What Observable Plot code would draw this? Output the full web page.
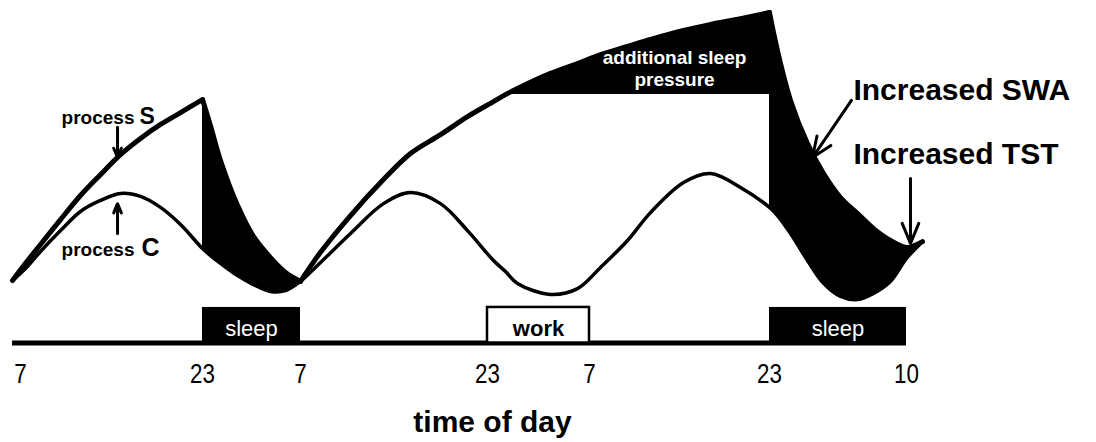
<!DOCTYPE html>
<html>
<head>
<meta charset="utf-8">
<script src="https://cdn.jsdelivr.net/npm/d3@7"></script>
<script src="https://cdn.jsdelivr.net/npm/@observablehq/plot@0.6"></script>
<style>
  html, body { margin: 0; padding: 0; background: #fff; }
  #chart svg { display: block; }
</style>
</head>
<body>
<div id="chart"></div>
<script>
// Hours elapsed since 07:00 on day 1
const hours = [
  -0.70, 0.44, 1.76, 3.52, 5.27, 7.03, 8.79, 10.55, 12.31, 14.07, 16,
  16.65, 17.47, 18.86, 20.16, 21.55, 22.78, 24,
  25.71, 28.28, 31.10, 33.41, 35.98, 38.29, 40.47, 41.41, 42.35, 44.94, 47.06, 48.98, 51.38, 53.42, 56.36, 58.76, 61.42, 64,
  64.64, 65.69, 67.05, 68.34, 69.70, 71.07, 72.35, 73.72, 75.0, 76.28
];
// Homeostatic sleep pressure (process S), arbitrary units 0-100
const processS = [
  6.9, 12.8, 19.3, 27.9, 36.2, 43.4, 50.3, 55.9, 60.7, 64.8, 69.3,
  60.3, 48.3, 32.8, 22.1, 14.8, 9.7, 6.6,
  16.6, 29.3, 41.7, 50.7, 57.2, 63.4, 68.6, 71.0, 73.1, 78.3, 81.7, 84.8, 87.6, 90.0, 93.1, 95.2, 97.2, 99.3,
  86.2, 69.0, 54.1, 43.8, 35.5, 30.0, 24.8, 20.7, 18.3, 20.3
];
// Circadian process C, same units
const processC = [
  6.9, 11.0, 16.9, 24.1, 30.7, 34.5, 36.9, 35.9, 32.1, 26.2, 17.9,
  15.5, 12.8, 8.6, 5.5, 3.1, 3.4, 6.6,
  13.1, 23.1, 33.4, 37.2, 33.4, 24.1, 13.8, 10.0, 5.9, 2.1, 4.1, 11.4, 20.7, 30.3, 40.7, 43.8, 39.0, 32.1,
  29.3, 23.1, 13.8, 5.9, 1.4, 0.3, 2.4, 6.6, 14.5, 20.3
];
// level of S at normal bedtime, the floor of the "additional sleep pressure"
const extraPressureLevel = 71.0;

// Time-of-day ticks
const tickHours = [0, 16, 24, 40, 48, 64, 75];
const tickLabels = ["7", "23", "7", "23", "7", "23", "10"];

// Behavioural periods
const periodLabels = ["sleep", "work", "sleep"];
const periodStart = [16, 40, 64];
const periodEnd = [24, 48, 75];

// Annotations (hour, level)
const noteText = ["process", "S", "process", "C", "additional sleep\npressure", "Increased SWA", "Increased TST"];
const noteHour = [10.02, 10.46, 10.02, 10.64, 55.56, 70.74, 70.74];
const noteLevel = [61.0, 61.0, 15.5, 15.5, 74.1, 69.0, 47.2];
const arrowHourFrom = [8.53, 8.53, 70.58, 75.32];
const arrowLevelFrom = [59.7, 23.1, 69.0, 42.1];
const arrowHourTo = [8.53, 8.53, 67.45, 75.32];
const arrowLevelTo = [49.3, 33.4, 49.3, 19.7];

// ---- build tables ----
const rows = hours.map((t, i) => ({t, s: processS[i], c: processC[i]}));
const periods = periodLabels.map((label, i) => ({label, start: periodStart[i], end: periodEnd[i]}));
const notes = noteText.map((text, i) => ({text, t: noteHour[i], v: noteLevel[i]}));
const arrows = arrowHourFrom.map((t1, i) => ({t1, v1: arrowLevelFrom[i], t2: arrowHourTo[i], v2: arrowLevelTo[i]}));

const wake1 = rows.filter(d => d.t <= periodStart[0]);
const sleep1 = rows.filter(d => d.t >= periodStart[0] && d.t <= periodEnd[0]);
const wake2 = rows.filter(d => d.t >= periodEnd[0] && d.t <= periodStart[2]);
const sleep2 = rows.filter(d => d.t >= periodStart[2]);
const extra = rows.filter(d => d.t <= periodStart[2] && d.s >= extraPressureLevel);

const curve = "catmull-rom";
const font = "Liberation Sans, Arial, Helvetica, sans-serif";
const barTop = -2.4, barBottom = -14.66;

const chart = Plot.plot({
  width: 1096,
  height: 442,
  marginTop: 0,
  marginLeft: 0,
  marginRight: 112,
  marginBottom: 87,
  style: {fontFamily: font, background: "#fff", color: "#000"},
  x: {type: "linear", domain: tickHours, range: [20, 202, 300, 487, 589, 769, 906]},
  y: {domain: [0, 100], range: [300, 10], axis: null},
  marks: [
    // black fills
    Plot.areaY(extra, {x: "t", y1: extraPressureLevel, y2: "s", fill: "#000", curve}),
    Plot.areaY(sleep1, {x: "t", y1: "c", y2: "s", fill: "#000", curve}),
    Plot.areaY(sleep2, {x: "t", y1: "c", y2: "s", fill: "#000", curve}),
    // process C
    Plot.line(rows, {x: "t", y: "c", stroke: "#000", strokeWidth: 3.5, curve}),
    // process S (piecewise: wake rise / sleep decay)
    ...[wake1, sleep1, wake2, sleep2].map(seg =>
      Plot.line(seg, {x: "t", y: "s", stroke: "#000", strokeWidth: 5, curve})),
    // timeline
    Plot.ruleY([barBottom], {x1: hours[0], x2: periodEnd[periodEnd.length - 1], stroke: "#000", strokeWidth: 5}),
    Plot.rect(periods.filter(d => d.label === "sleep"), {x1: "start", x2: "end", y1: barTop, y2: barBottom, fill: "#000"}),
    Plot.rect(periods.filter(d => d.label === "work"), {x1: "start", x2: "end", y1: barTop, y2: barBottom, fill: "#fff", stroke: "#000", strokeWidth: 2.5}),
    Plot.text(periods.filter(d => d.label === "sleep"), {x: d => (d.start + d.end) / 2, y: -12.4, text: "label", lineAnchor: "bottom", fill: "#fff", fontSize: 22}),
    Plot.text(periods.filter(d => d.label === "work"), {x: d => (d.start + d.end) / 2, y: -12.4, text: "label", lineAnchor: "bottom", fill: "#000", fontSize: 22, fontWeight: "bold"}),
    // annotations
    Plot.text([notes[0], notes[2]], {x: "t", y: "v", text: "text", textAnchor: "end", lineAnchor: "bottom", fontSize: 19, fontWeight: "bold", fill: "#000"}),
    Plot.text([notes[1]], {x: "t", y: "v", text: "text", textAnchor: "start", lineAnchor: "bottom", fontSize: 23, fontWeight: "bold", fill: "#000"}),
    Plot.text([notes[3]], {x: "t", y: "v", text: "text", textAnchor: "start", lineAnchor: "bottom", fontSize: 25, fontWeight: "bold", fill: "#000"}),
    Plot.text([notes[4]], {x: "t", y: "v", text: "text", textAnchor: "middle", lineAnchor: "bottom", lineHeight: 1.15, fontSize: 19, fontWeight: "bold", fill: "#fff"}),
    Plot.text([notes[5], notes[6]], {x: "t", y: "v", text: "text", textAnchor: "start", lineAnchor: "bottom", fontSize: 30, fontWeight: "bold", fill: "#000"}),
    Plot.arrow(arrows, {x1: "t1", y1: "v1", x2: "t2", y2: "v2", stroke: "#000", strokeWidth: 3, headLength: 11, headAngle: 45}),
    // axis
    Plot.axisX({ticks: tickHours, tickFormat: d => tickLabels[tickHours.indexOf(d)], tickSize: 0, tickPadding: 8, fontSize: 28, label: null}),
    Plot.text(["time of day"], {frameAnchor: "bottom", dy: 76, lineAnchor: "bottom", text: d => d, fontSize: 30, fontWeight: "bold", fill: "#000"})
  ]
});

// tick labels in the reference use a condensed face: narrow them horizontally
chart.querySelectorAll('g[aria-label="x-axis tick label"] text').forEach(t => {
  const tr = t.getAttribute("transform");
  if (tr) {
    t.setAttribute("transform", tr + " scale(0.8,1)");
  } else {
    const x = +(t.getAttribute("x") || 0);
    t.setAttribute("transform", `translate(${x},0) scale(0.8,1) translate(${-x},0)`);
  }
});

document.getElementById("chart").appendChild(chart);
</script>
</body>
</html>
